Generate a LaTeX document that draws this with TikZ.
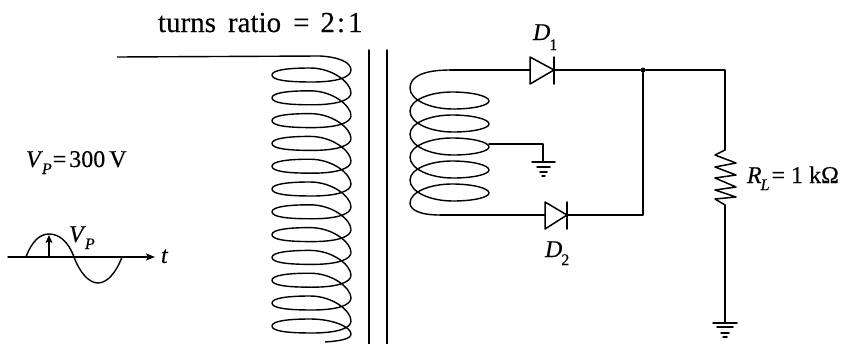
\documentclass[tikz,border=0pt]{standalone}
\usepackage{fontspec}
\setmainfont{Liberation Serif}[RawFeature={embolden=0.3}]
\usetikzlibrary{arrows.meta}
\newcommand\isub[3][7pt]{\textit{#2}\kern-1pt\raisebox{-#1}{\fontsize{16}{16}\selectfont #3}}
\tikzset{
  wire/.style={line width=1.5pt,line cap=round,line join=round,black},
  coil/.style={line width=1.4pt,line join=round,black},
  txt/.style={anchor=base west,inner sep=0pt,outer sep=0pt,font=\fontsize{24}{28}\selectfont},
  dot/.style={circle,fill=black,inner sep=0pt,minimum size=5pt}
}
\begin{document}
\begin{tikzpicture}[x=1pt,y=-1pt]
\useasboundingbox (0,0) rectangle (841,343);
\begin{scope}
\clip (0,0) rectangle (841,343);
% primary coil
\coordinate (pin) at (117,57);
\coordinate (pbend) at (320,56);
\draw[coil] (pin) -- (pbend) .. controls (338,57) and (351,62) .. (351,70);
\foreach \k in {0,...,10}{
  \pgfmathsetmacro\y{70+22.8*\k}
  \pgfmathsetmacro\a{\y+7}
  \pgfmathsetmacro\b{\y+12}
  \pgfmathsetmacro\c{\y+5}
  \pgfmathsetmacro\d{\y-2}
  \pgfmathsetmacro\e{\y+22.8}
  \pgfmathsetmacro\f{\y+10}
  \pgfmathsetmacro\g{\y+13}
  \draw[coil] (351,\y) .. controls (351,\a) and (338,\b) .. (312,\b)
     .. controls (286,\b) and (272,\f) .. (272,\c)
     .. controls (272,\y) and (288,\d) .. (310,\d)
     .. controls (333,\d) and (351,\g) .. (351,\e);
}
\draw[coil] (351,321) .. controls (351,328) and (338,333) .. (312,333)
     .. controls (286,333) and (272,331) .. (272,326)
     .. controls (272,321) and (288,319) .. (310,319)
     .. controls (333,319) and (351,327) .. (351,334)
     .. controls (351,339) and (340,341) .. (325,342);
% core
\coordinate (c1t) at (369,50); \coordinate (c1b) at (369,345);
\coordinate (c2t) at (387,50); \coordinate (c2b) at (387,345);
\draw[wire] (c1t) -- (c1b); \draw[wire] (c2t) -- (c2b);
\end{scope}
% secondary coil
\coordinate (stop) at (450,70);
\draw[coil] (stop) .. controls (425,70) and (410,76) .. (410,88);
\foreach \k in {0,...,4}{
  \pgfmathsetmacro\y{88+23*\k}
  \pgfmathsetmacro\r{\y+13}
  \pgfmathsetmacro\a{\y+12}
  \pgfmathsetmacro\b{\y+21}
  \pgfmathsetmacro\c{\y+4}
  \pgfmathsetmacro\d{\y+23}
  \pgfmathsetmacro\t{\y+17}
  \pgfmathsetmacro\u{\y+8}
  \draw[coil] (410,\y) .. controls (410,\a) and (430,\b) .. (453,\b)
     .. controls (475,\b) and (489,\t) .. (489,\r)
     .. controls (489,\u) and (472,\c) .. (452,\c)
     .. controls (430,\c) and (410,\a) .. (410,\d);
}
\coordinate (sbot) at (440,215);
\draw[coil] (410,203) .. controls (410,210) and (420,215) .. (sbot);
% centre tap and its ground
\coordinate (tap) at (489,144);
\coordinate (tapc) at (543,144);
\coordinate (g1) at (543,162);
\draw[wire] (tap) -- (tapc) -- (g1);
\draw[wire] (532,162) -- (555,162) (537,167) -- (550,167) (540,172) -- (547,172) (542,176) -- (545,176);
% D1
\coordinate (d1a) at (530,70); \coordinate (d1c) at (554,70);
\draw[wire] (stop) -- (d1a);
\draw[wire] (530,57) -- (554,70) -- (530,84) -- cycle;
\draw[wire] (554,57) -- (554,84);
% D2
\coordinate (d2a) at (545,215); \coordinate (d2c) at (567,215);
\draw[wire] (sbot) -- (d2a);
\draw[wire] (545,202) -- (567,215) -- (545,229) -- cycle;
\draw[wire] (567,202) -- (567,229);
% output
\node[dot] (j) at (643,70) {};
\coordinate (jb) at (643,215);
\coordinate (rt) at (725,70);
\coordinate (r1) at (725,150);
\coordinate (r2) at (725,205);
\coordinate (g2) at (725,323);
\draw[wire] (d1c) -- (j) -- (rt) -- (r1);
\draw[wire] (d2c) -- (jb) -- (j);
\draw[wire] (r1) -- (715,155) -- (736,163) -- (715,167) -- (736,175) -- (715,178) -- (736,187) -- (715,190) -- (736,197) -- (715,199) -- (r2);
\draw[wire] (r2) -- (g2);
\draw[wire] (713,323) -- (737,323) (717,327) -- (733,327) (721,333) -- (729,333) (723,337) -- (727,337);
% sine
\coordinate (ax0) at (8,257); \coordinate (ax1) at (155,257);
\draw[wire,-{Stealth[length=9pt,width=7pt,inset=2pt]}] (ax0) -- (ax1);
\draw[coil] (26,257) .. controls (32,241) and (40,234) .. (49,234)
   .. controls (59,234) and (68,241) .. (74,257)
   .. controls (80,273) and (89,283) .. (98,283)
   .. controls (107,283) and (116,273) .. (122,257);
\coordinate (va) at (49,257); \coordinate (vb) at (49,235);
\draw[wire,-{Stealth[length=8pt,width=7pt,inset=2pt]}] (va) -- (vb);
% text
\node[txt,font=\fontsize{29}{32}\selectfont] (title) at (158,32) {turns\kern12pt ratio\kern12pt =\kern11pt 2\kern2pt:\kern3pt 1};
\node[txt] (vp) at (26,167) {\isub{V}{\textit{P}}\kern1pt=\kern3pt 300\kern4pt V};
\node[txt] (vp2) at (69,242) {\isub{V}{\textit{P}}};
\node[txt] (tl) at (161,263) {\textit{t}};
\node[txt] (d1) at (533,40) {\isub[10pt]{D}{1}};
\node[txt] (d2) at (545,257) {\isub[8pt]{D}{2}};
\node[txt] (rl) at (747,183) {\isub{R}{\textit{L}}\kern2pt=\kern6pt 1\kern6pt kΩ};
\end{tikzpicture}
\end{document}
